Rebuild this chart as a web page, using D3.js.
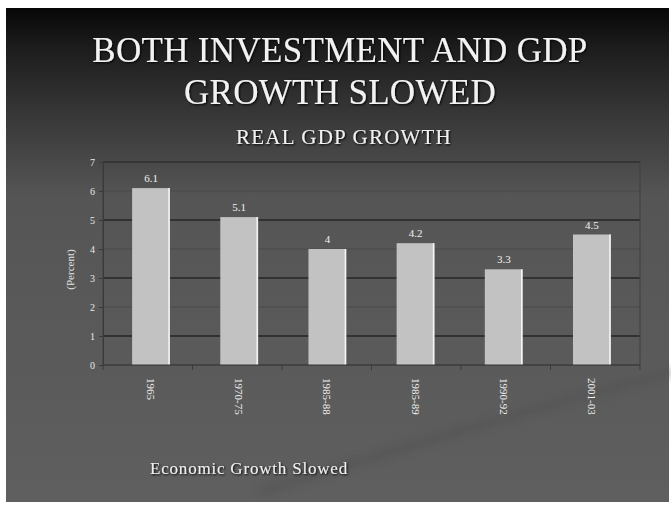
<!DOCTYPE html>
<html>
<head>
<meta charset="utf-8">
<script src="https://cdn.jsdelivr.net/npm/d3@7"></script>
<style>
  html, body { margin: 0; padding: 0; background: #ffffff; }
  svg { display: block; }
</style>
</head>
<body>
<div id="chart"></div>
<script>
// Real GDP growth by period (percent)
const periods = ["1965", "1970-75", "1985-88", "1985-89", "1990-92", "2001-03"];
const growth = [6.1, 5.1, 4, 4.2, 3.3, 4.5];
const growthLabels = ["6.1", "5.1", "4", "4.2", "3.3", "4.5"];
const yTicks = [0, 1, 2, 3, 4, 5, 6, 7];

const titleLines = ["BOTH INVESTMENT AND GDP", "GROWTH SLOWED"];
const chartTitle = "REAL GDP GROWTH";
const yAxisTitle = "(Percent)";
const footnote = "Economic Growth Slowed";

const W = 671, H = 508;
const svg = d3.select("#chart").append("svg").attr("width", W).attr("height", H);
const defs = svg.append("defs");

// slide background: dark at the top fading to mid grey
const bg = defs.append("linearGradient").attr("id", "bg").attr("x1", 0).attr("y1", 0).attr("x2", 0).attr("y2", 1);
bg.append("stop").attr("offset", "0").attr("stop-color", "#070707");
bg.append("stop").attr("offset", "0.08").attr("stop-color", "#1c1c1c");
bg.append("stop").attr("offset", "0.22").attr("stop-color", "#383838");
bg.append("stop").attr("offset", "0.38").attr("stop-color", "#555555");
bg.append("stop").attr("offset", "1").attr("stop-color", "#5f5f5f");

const glow = defs.append("filter").attr("id", "glow").attr("x", "-10%").attr("y", "-30%").attr("width", "120%").attr("height", "160%");
glow.append("feGaussianBlur").attr("in", "SourceAlpha").attr("stdDeviation", 1.2).attr("result", "b");
glow.append("feOffset").attr("in", "b").attr("dx", 1).attr("dy", 1).attr("result", "o");
const gm = glow.append("feMerge");
gm.append("feMergeNode").attr("in", "o");
gm.append("feMergeNode").attr("in", "SourceGraphic");

const soft = defs.append("filter").attr("id", "soft");
soft.append("feGaussianBlur").attr("stdDeviation", 4);

svg.append("rect").attr("x", 6).attr("y", 8).attr("width", W - 8).attr("height", H - 14).attr("fill", "url(#bg)");

// faint decorative swoosh in the lower right
svg.append("path")
  .attr("d", "M260,492 C390,452 520,412 671,372")
  .attr("fill", "none").attr("stroke", "#505050").attr("stroke-width", 5)
  .attr("filter", "url(#soft)").attr("opacity", 0.7);

const serif = "'Liberation Serif', 'Times New Roman', serif";

// slide title
svg.append("g").selectAll("text").data(titleLines).join("text")
  .attr("x", 340).attr("y", (d, i) => 62 + i * 42)
  .attr("text-anchor", "middle")
  .attr("font-family", serif).attr("font-size", 35)
  .attr("letter-spacing", 0.3)
  .attr("fill", "#f2f2f2").attr("filter", "url(#glow)")
  .text(d => d);

svg.append("text")
  .attr("x", 344).attr("y", 144)
  .attr("text-anchor", "middle")
  .attr("font-family", serif).attr("font-size", 21)
  .attr("letter-spacing", 1.2)
  .attr("fill", "#f0f0f0").attr("filter", "url(#glow)")
  .text(chartTitle);

const plot = { left: 103, right: 640, top: 162, bottom: 365 };

const x = d3.scaleBand().domain(periods).range([plot.left, plot.right]).paddingInner(0.57).paddingOuter(0.33);
const y = d3.scaleLinear().domain([0, 7]).range([plot.bottom, plot.top]);

// horizontal gridlines, odd values drawn darker
svg.append("g").selectAll("line").data(yTicks.filter(t => t > 0)).join("line")
  .attr("x1", plot.left).attr("x2", plot.right)
  .attr("y1", d => y(d)).attr("y2", d => y(d))
  .attr("stroke", d => d % 2 ? "#262626" : "#4a4a4a")
  .attr("stroke-width", d => d % 2 ? 1.4 : 1);

// plot frame
svg.append("rect")
  .attr("x", plot.left).attr("y", plot.top)
  .attr("width", plot.right - plot.left).attr("height", plot.bottom - plot.top)
  .attr("fill", "none").attr("stroke", "#3e3e3e").attr("stroke-width", 1);

// y axis
const yAxis = svg.append("g").attr("transform", `translate(${plot.left},0)`)
  .call(d3.axisLeft(y).tickValues(yTicks).tickSize(4).tickFormat(d3.format("d")));
yAxis.select(".domain").attr("stroke", "#3a3a3a");
yAxis.selectAll(".tick line").attr("stroke", "#3a3a3a");
yAxis.selectAll(".tick text").attr("font-family", serif).attr("font-size", 10).attr("fill", "#e8e8e8").attr("x", -8);

svg.append("text")
  .attr("transform", `translate(74,${(plot.top + plot.bottom) / 2 + 6}) rotate(-90)`)
  .attr("text-anchor", "middle")
  .attr("font-family", serif).attr("font-size", 11)
  .attr("fill", "#e0e0e0")
  .text(yAxisTitle);

// bars
const bars = svg.append("g").selectAll("g").data(periods).join("g");
bars.append("rect")
  .attr("x", d => x(d)).attr("width", x.bandwidth())
  .attr("y", (d, i) => y(growth[i])).attr("height", (d, i) => y(0) - y(growth[i]))
  .attr("fill", "#c2c2c2");
bars.append("line")
  .attr("x1", d => x(d) + x.bandwidth() - 1).attr("x2", d => x(d) + x.bandwidth() - 1)
  .attr("y1", (d, i) => y(growth[i])).attr("y2", y(0))
  .attr("stroke", "#f4f4f4").attr("stroke-width", 1.5);

// value labels
svg.append("g").selectAll("text").data(periods).join("text")
  .attr("x", d => x(d) + x.bandwidth() / 2)
  .attr("y", (d, i) => y(growth[i]) - 6)
  .attr("text-anchor", "middle")
  .attr("font-family", serif).attr("font-size", 11)
  .attr("fill", "#f0f0f0")
  .text((d, i) => growthLabels[i]);

// x axis with ticks on category boundaries
const xAxis = svg.append("g").attr("transform", `translate(0,${plot.bottom})`);
xAxis.append("line").attr("x1", plot.left).attr("x2", plot.right).attr("stroke", "#3a3a3a");
xAxis.selectAll("line.tk").data(d3.range(periods.length + 1)).join("line").attr("class", "tk")
  .attr("x1", i => plot.left + i * (plot.right - plot.left) / periods.length)
  .attr("x2", i => plot.left + i * (plot.right - plot.left) / periods.length)
  .attr("y1", 0).attr("y2", 5).attr("stroke", "#3a3a3a");
xAxis.selectAll("text").data(periods).join("text")
  .attr("transform", d => `translate(${x(d) + x.bandwidth() / 2 - 4},13) rotate(90)`)
  .attr("font-family", serif).attr("font-size", 11)
  .attr("fill", "#eeeeee")
  .text(d => d);

// footnote
svg.append("text")
  .attr("x", 150).attr("y", 474)
  .attr("font-family", serif).attr("font-size", 17)
  .attr("letter-spacing", 0.8)
  .attr("fill", "#f0f0f0").attr("filter", "url(#glow)")
  .text(footnote);
</script>
</body>
</html>
